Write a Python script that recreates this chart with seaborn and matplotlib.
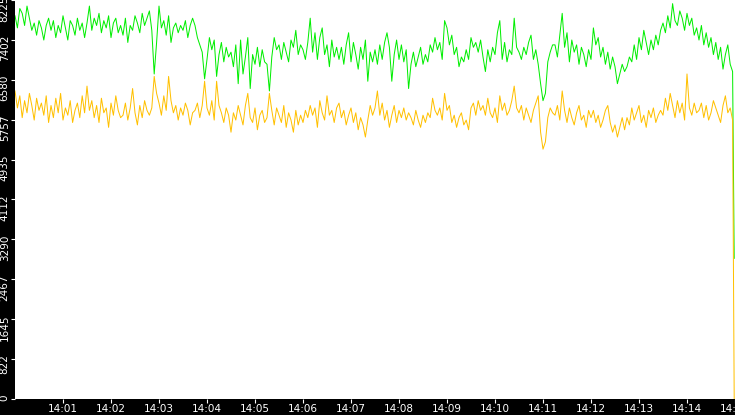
import numpy as np
import pandas as pd
import matplotlib
matplotlib.use("Agg")
import matplotlib.pyplot as plt
from matplotlib.transforms import ScaledTranslation
import seaborn as sns

# ---------------- data (3 s sampling) ----------------
start_time = "2024-01-01 14:00:00"
sample_seconds = 3
end_time = "2024-01-01 14:14:59"

green_values = [
    7900, 7650, 8050, 7950, 7700, 8100, 7850, 7600, 7750, 7500, 7800, 7650, 7400, 7700, 7850,
    7600, 7800, 7450, 7700, 7550, 7900, 7650, 7400, 7800, 7700, 7500, 7850, 7600, 7750, 7450,
    7750, 8100, 7600, 7850, 7700, 7950, 7550, 7800, 7650, 7900, 7450, 7750, 7850, 7550, 7700,
    7500, 7850, 7350, 7700, 7600, 7900, 7750, 7550, 7950, 7700, 7850, 8000, 7600, 6700, 7350,
    8100, 7650, 7800, 7500, 7900, 7350, 7650, 7750, 7550, 7700, 7600, 7800, 7450, 7700, 7850,
    7700, 7450, 7300, 7150, 6600, 7000, 7450, 7200, 7400, 6650, 7100, 7350, 6950, 7250, 7050,
    7150, 6850, 7300, 6500, 7400, 6700, 7050, 7450, 6400, 7100, 6900, 7250, 6850, 7200, 6950,
    6900, 6350, 7050, 7450, 7200, 7300, 7000, 7350, 7150, 6950, 7400, 7250, 7600, 7100, 7300,
    7200, 7000, 7350, 7850, 7150, 7550, 7000, 7450, 7650, 7100, 7300, 6850, 7400, 7050, 7250,
    7000, 7250, 6900, 7300, 7550, 6950, 7350, 7100, 6800, 7250, 7000, 7400, 6550, 7150, 6950,
    7200, 6900, 7300, 7000, 7350, 7550, 7250, 6550, 7100, 7400, 7000, 7300, 6950, 7200, 6400,
    6900, 7150, 6850, 7050, 7250, 6900, 7100, 6950, 7300, 7150, 7450, 7200, 7350, 7000, 7800,
    7650, 7300, 7500, 7100, 7250, 6850, 7050, 6950, 7200, 7000, 7450, 7250, 7350, 7150, 7400,
    7050, 6750, 7200, 6950, 7250, 7100, 7550, 7800, 7000, 7350, 6950, 7200, 7100, 7850, 7250,
    7150, 7000, 7250, 7100, 7350, 7500, 7000, 7200, 6900, 6500, 6150, 6300, 6950, 7150, 7300,
    7300, 7050, 7500, 7950, 7250, 7550, 6950, 7400, 7150, 7300, 6900, 7250, 7100, 6850, 7200,
    7000, 7650, 7300, 7450, 7050, 7250, 6900, 7150, 6800, 7050, 6850, 6500, 6700, 6900, 6750,
    6850, 7050, 6950, 7300, 7000, 7450, 7200, 7600, 7350, 7100, 7400, 7200, 7500, 7300, 7600,
    7750, 7550, 7900, 7650, 8150, 7800, 7700, 8000, 7850, 7600, 7950, 7700, 7850, 7500, 7650,
    7400, 7700, 7300, 7550, 7250, 7450, 7100, 7350, 7000, 7250, 6800, 7100, 7300, 6900, 6750,
]
green_last = 2900

orange_values = [
    6350, 6000, 6250, 5800, 6150, 5900, 6300, 6050, 5750, 6200, 5950, 6100, 5850, 6250, 5700,
    6050, 5800, 6200, 5900, 6300, 5750, 6000, 5850, 6150, 5700, 5950, 6100, 5800, 6250, 5900,
    6450, 5950, 6150, 5800, 6050, 5700, 6200, 5900, 6000, 5600, 6100, 5850, 6250, 5950, 5800,
    5850, 6100, 5750, 6000, 6400, 5900, 5650, 6050, 5800, 6150, 5950, 5850, 6000, 6650, 6300,
    6100, 5850, 6250, 5950, 6650, 6150, 5900, 6050, 5750, 6000, 5850, 6100, 5950, 5650, 5900,
    5950, 6100, 5800, 6050, 6550, 6000, 5850, 6150, 5750, 6550, 6050, 5900, 5700, 6000, 5850,
    5500, 5900, 5750, 6050, 5850, 5650, 6050, 6300, 5800, 5700, 6000, 5550, 5850, 5950, 5700,
    5800, 6300, 5950, 5650, 6000, 5850, 5700, 6050, 5600, 5900, 5750, 5500, 5950, 5650, 5850,
    5700, 5950, 5800, 6050, 5850, 6000, 5600, 6150, 5900, 5750, 6250, 5850, 5950, 5700, 6000,
    6100, 5800, 5950, 5650, 5850, 6000, 5700, 5900, 5550, 5800, 5650, 5400, 5750, 6050, 5850,
    6000, 6350, 5850, 6100, 5750, 5950, 5600, 5850, 6050, 5700, 5950, 5800, 6000, 5750, 5900,
    5800, 5650, 5950, 5750, 5600, 5850, 5700, 5900, 5800, 6200, 5950, 5850, 6000, 5750, 6300,
    5950, 6050, 5700, 5850, 5600, 5800, 5900, 5650, 5750, 5550, 6000, 6100, 5850, 6150, 5950,
    6050, 5850, 6200, 5900, 5800, 6000, 5700, 6250, 5950, 6100, 5850, 5950, 6150, 6450, 6000,
    5900, 6050, 5750, 6000, 5850, 5700, 5950, 6100, 6250, 5500, 5150, 5300, 5800, 6000, 5900,
    5850, 6050, 5750, 6350, 5950, 5700, 6000, 5800, 5650, 5900, 6050, 5750, 5850, 5600, 5950,
    5800, 5950, 5700, 5850, 5600, 5750, 5950, 6050, 5700, 5500, 5650, 5400, 5600, 5800, 5550,
    5800, 5650, 6000, 5750, 5900, 6050, 5700, 5850, 5600, 5950, 5800, 6000, 5700, 5850, 5950,
    5850, 6200, 5950, 6300, 6050, 5800, 6150, 5900, 6100, 5750, 6700, 6000, 5850, 6100, 5900,
    5950, 6100, 5800, 6050, 5750, 5900, 6150, 6000, 5850, 5700, 6050, 6250, 5900, 6000, 5750,
]
orange_last = 0

y_tick_values = [0, 822.5, 1645, 2467.5, 3290, 4112.5, 4935, 5757.5, 6580, 7402.5, 8225]
y_tick_labels = ["0", "822", "1645", "2467", "3290", "4112", "4935", "5757", "6580", "7402", "8225"]
x_tick_labels = ["14:01", "14:02", "14:03", "14:04", "14:05", "14:06", "14:07", "14:08",
                 "14:09", "14:10", "14:11", "14:12", "14:13", "14:14", "14:15"]
x_range = ("2024-01-01 14:00:00", "2024-01-01 14:15:00")
y_range = (0, 8225)

# ---------------- build table ----------------
times = pd.date_range(start_time, periods=len(green_values), freq=f"{sample_seconds}s")
times = times.append(pd.DatetimeIndex([end_time]))
df = pd.DataFrame({
    "time": times,
    "green": green_values + [green_last],
    "orange": orange_values + [orange_last],
})

# ---------------- figure ----------------
W, H, DPI = 735, 415, 100
fig = plt.figure(figsize=(W / DPI, H / DPI), dpi=DPI, facecolor="black")
ax = fig.add_axes([15 / W, 16 / H, 720 / W, 399 / H])
ax.set_facecolor("white")

lw = 1.0 * 72 / DPI  # about one pixel
sns.lineplot(data=df, x="time", y="green", ax=ax, color="#00ee00", linewidth=lw)
sns.lineplot(data=df, x="time", y="orange", ax=ax, color="#ffc000", linewidth=lw)

ax.set_xlim(pd.Timestamp(x_range[0]), pd.Timestamp(x_range[1]))
ax.set_ylim(*y_range)
ax.set_xlabel("")
ax.set_ylabel("")
for s in ax.spines.values():
    s.set_visible(False)
ax.grid(False)

xt = [pd.Timestamp("2024-01-01 " + lbl) for lbl in x_tick_labels]
ax.set_xticks(xt)
ax.set_xticklabels(x_tick_labels)
ax.set_yticks(y_tick_values)
ax.set_yticklabels(y_tick_labels)

ax.tick_params(axis="both", colors="white", labelcolor="white", length=3, width=0.8,
               labelsize=7.5, direction="out")
ax.tick_params(axis="x", pad=0.3)
ax.tick_params(axis="y", pad=0.8, labelrotation=90)

offset = ScaledTranslation(0, 5 / DPI, fig.dpi_scale_trans)
for lbl in ax.get_yticklabels():
    lbl.set_va("top")
    lbl.set_transform(lbl.get_transform() + offset)

fig.savefig("out.png", dpi=DPI, facecolor="black")
